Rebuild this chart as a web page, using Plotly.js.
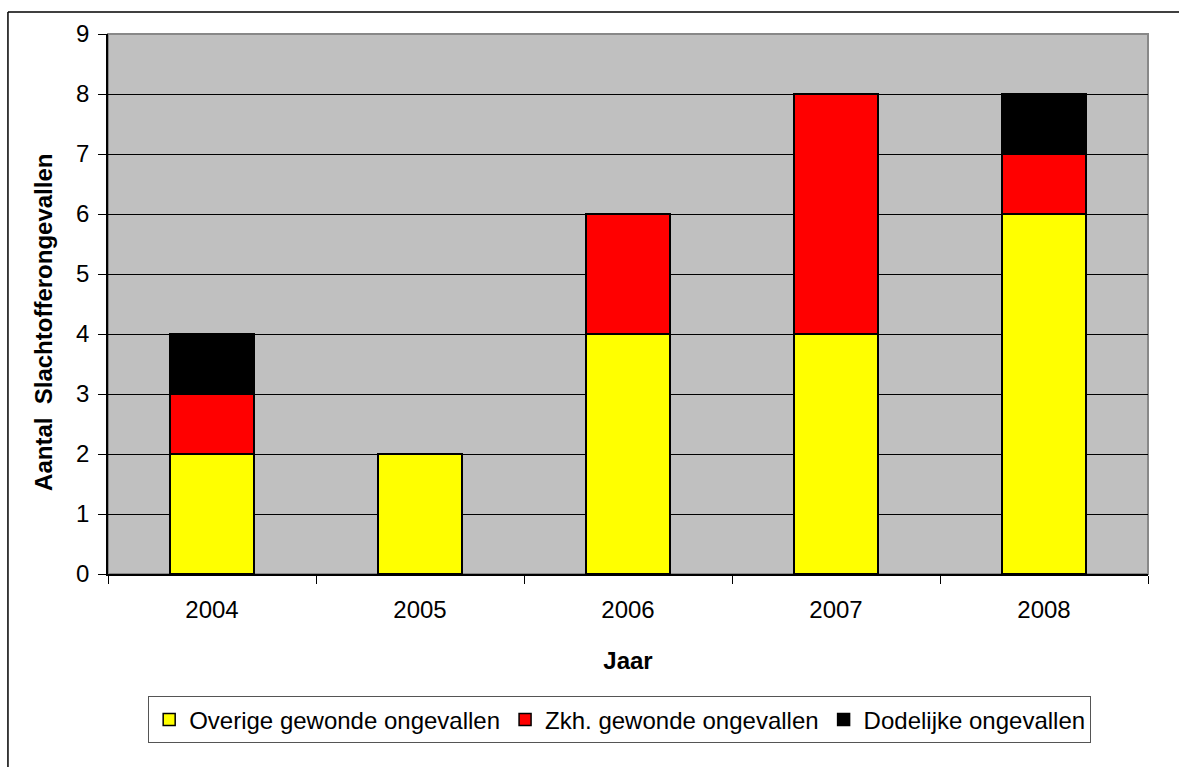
<!DOCTYPE html>
<html><head><meta charset="utf-8">
<script src="https://cdn.plot.ly/plotly-3.0.1.min.js"></script>
<style>body{margin:0;background:#fff}</style>
</head><body><div id="chart" style="width:1179px;height:767px"></div>
<script>
const years = ['2004','2005','2006','2007','2008'];
const overige = [2, 2, 4, 4, 6];
const zkh = [1, 0, 2, 4, 1];
const dodelijk = [1, 0, 0, 0, 1];
const seriesNames = ['Overige gewonde ongevallen','Zkh. gewonde ongevallen','Dodelijke ongevallen'];
const seriesColors = ['#FFFF00','#FF0000','#000000'];
const seriesValues = [overige, zkh, dodelijk];
const yTitle = 'Aantal&nbsp; Slachtofferongevallen';

const traces = seriesValues.map((v,i)=>({
  type:'bar', x:years, y:v, name:seriesNames[i],
  marker:{color:seriesColors[i], line:{color:'#000', width:1.5}},
  width:0.404
}));

const layout = {
  width:1179, height:767,
  margin:{l:108, r:31, t:34, b:193},
  barmode:'stack',
  plot_bgcolor:'#C0C0C0', paper_bgcolor:'#fff',
  font:{family:'Liberation Sans, Arial, sans-serif', size:24, color:'#000'},
  showlegend:true,
  legend:{orientation:'h', x:0.492, xanchor:'center', y:-0.27, yanchor:'middle',
    bordercolor:'#555', borderwidth:1, font:{size:24}, traceorder:'normal',
    itemwidth:30, bgcolor:'#fff'},
  xaxis:{type:'category', showline:true, linecolor:'#000', linewidth:1.5,
    ticks:'outside', tickson:'boundaries', ticklen:8, tickcolor:'#000',
    tickfont:{size:24}, showgrid:false, ticklabelstandoff:13,
    title:{text:'<b>Jaar</b>', font:{size:24}, standoff:31}},
  yaxis:{range:[0,9], dtick:1, showline:true, linecolor:'#000', linewidth:1.5,
    ticks:'outside', ticklen:8, tickcolor:'#000', tickfont:{size:24},
    ticklabelstandoff:4,
    showgrid:true, gridcolor:'#000', gridwidth:1, zeroline:false},
  annotations:[
    {text:'<b>'+yTitle+'</b>', xref:'paper', yref:'paper', x:-0.0615, y:0.465,
     xanchor:'center', yanchor:'middle', textangle:-90, showarrow:false, font:{size:24}}
  ],
  shapes:[
    {type:'rect', xref:'paper', yref:'paper', x0:0, x1:1, y0:0, y1:1, line:{color:'#888', width:2}, layer:'below'},
    {type:'line', xref:'paper', yref:'paper', x0:-0.0962, x1:-0.0962, y0:1.0407, y1:-0.5, line:{color:'#000', width:1.5}},
    {type:'line', xref:'paper', yref:'paper', x0:-0.0962, x1:1.2, y0:1.0407, y1:1.0407, line:{color:'#000', width:1.5}}
  ]
};
Plotly.newPlot('chart', traces, layout, {displayModeBar:false});
</script></body></html>
